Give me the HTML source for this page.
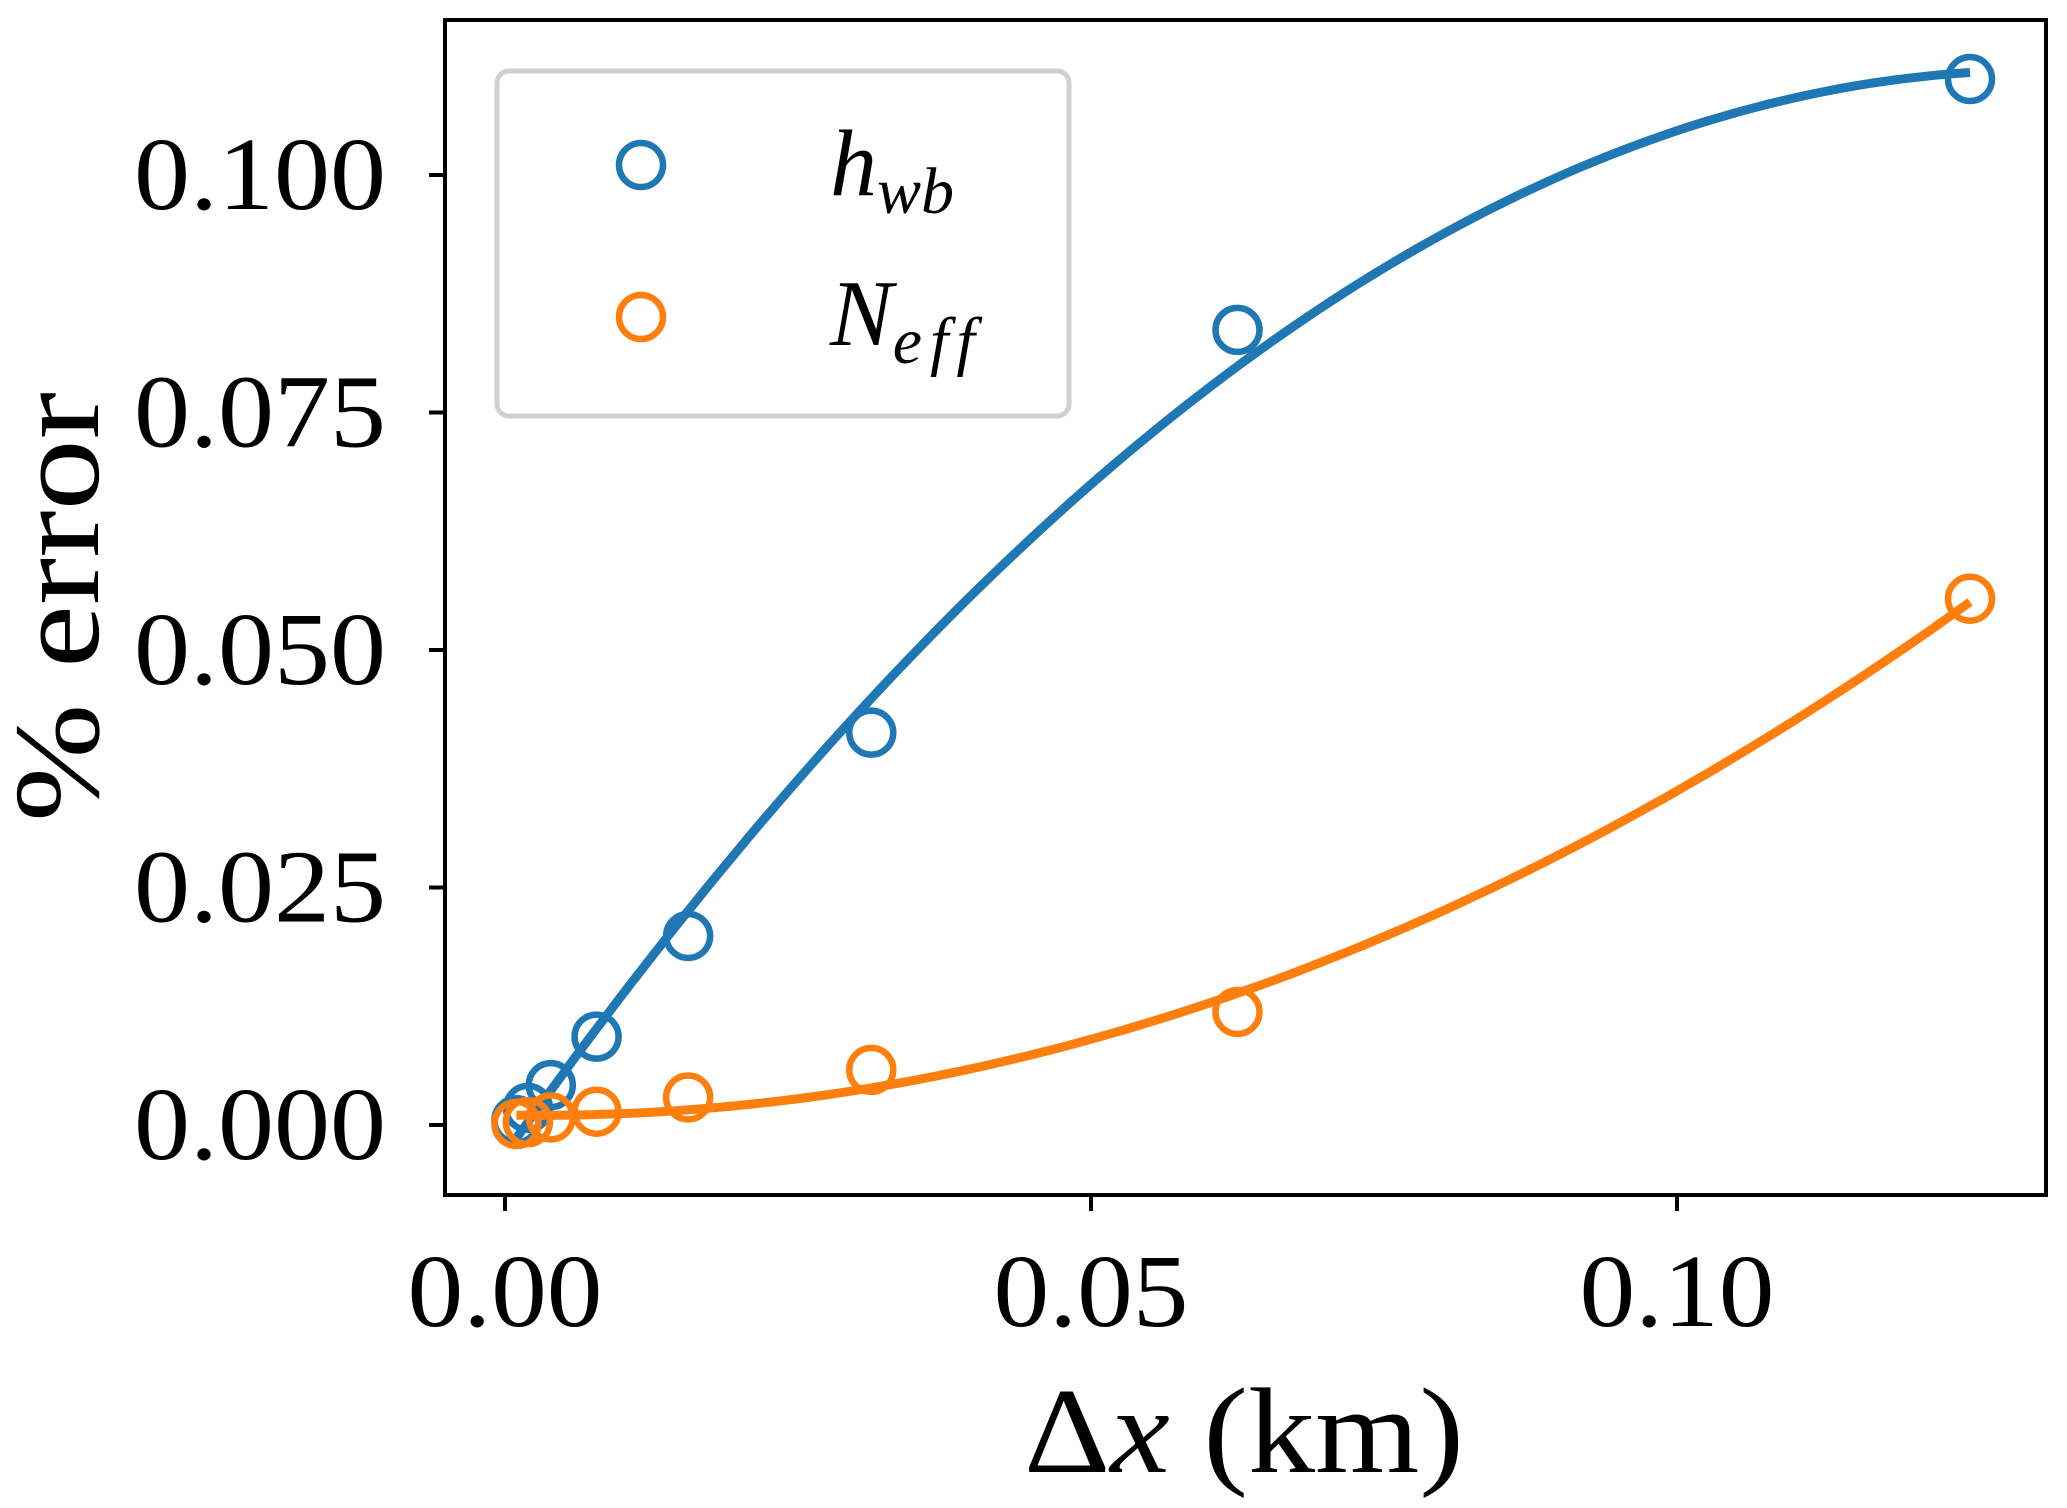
<!DOCTYPE html>
<html><head><meta charset="utf-8"><style>
html,body{margin:0;padding:0;background:#fff;}
svg{display:block;font-family:"Liberation Serif",serif;}
</style></head><body>
<svg id="chart" width="2067" height="1508" viewBox="0 0 2067 1508" xmlns="http://www.w3.org/2000/svg">
<rect x="0" y="0" width="2067" height="1508" fill="#fff"/>
<g id="plot"></g>
<g id="axes"></g>
</svg>
<script>
const dx = [0.125, 0.0625, 0.03125, 0.015625, 0.0078125, 0.00390625, 0.001953125, 0.0009765625];
const hwb = [0.1101, 0.0837, 0.0413, 0.0199, 0.0093, 0.0042, 0.0018, 0.0005];
const neff = [0.0554, 0.0119, 0.0058, 0.0029, 0.0014, 0.0008, 0.0003, 0.0001];
const xTicks = [0.00, 0.05, 0.10];
const xTickLabels = ["0.00", "0.05", "0.10"];
const yTicks = [0, 0.025, 0.05, 0.075, 0.1];
const yTickLabels = ["0.000", "0.025", "0.050", "0.075", "0.100"];

const NS = "http://www.w3.org/2000/svg";
const L = 445, R = 2046, T = 20, B = 1195;
function sx(v){ return 505 + v * (1677 - 505) / 0.10; }
function sy(v){ return 1125 - v * (1125 - 175) / 0.10; }
function mk(tag, attrs, parent){
  const e = document.createElementNS(NS, tag);
  for (const k in attrs) e.setAttribute(k, attrs[k]);
  parent.appendChild(e); return e;
}
function quadFit(xs, ys){
  let S=[0,0,0,0,0], Ty=[0,0,0];
  for (let i=0;i<xs.length;i++){ let p=1; for(let k=0;k<5;k++){S[k]+=p; if(k<3) Ty[k]+=p*ys[i]; p*=xs[i];} }
  const A=[[S[0],S[1],S[2],Ty[0]],[S[1],S[2],S[3],Ty[1]],[S[2],S[3],S[4],Ty[2]]];
  for(let i=0;i<3;i++){ for(let j=i+1;j<3;j++){ const f=A[j][i]/A[i][i]; for(let k=i;k<4;k++) A[j][k]-=f*A[i][k]; } }
  const c=[0,0,0];
  for(let i=2;i>=0;i--){ let s=A[i][3]; for(let k=i+1;k<3;k++) s-=A[i][k]*c[k]; c[i]=s/A[i][i]; }
  return x => c[0]+c[1]*x+c[2]*x*x;
}
const plot = document.getElementById('plot');
const axes = document.getElementById('axes');
const series = [[hwb, '#1f77b4', 'hwb'], [neff, '#ff7f0e', 'neff']];
series.forEach(([ys, col, nm]) => {
  const f = quadFit(dx, ys);
  const x0 = Math.min(...dx), x1 = Math.max(...dx);
  let d = '';
  for (let i=0;i<=100;i++){ const x = x0 + (x1-x0)*i/100; d += (i?'L':'M') + sx(x).toFixed(1) + ' ' + sy(f(x)).toFixed(1); }
  const p = mk('path', {d:d, fill:'none', stroke:col, 'stroke-width':9}, plot);
  
  
  dx.forEach((x, i) => {
    const c = mk('circle', {cx:sx(x), cy:sy(ys[i]), r:22, fill:'none', stroke:col, 'stroke-width':6.5}, plot);
    
    
  });
});
const frame = mk('rect', {x:L, y:T, width:R-L, height:B-T, fill:'none', stroke:'#000', 'stroke-width':4}, axes);


xTicks.forEach((v, i) => {
  const t = mk('line', {x1:sx(v), x2:sx(v), y1:B, y2:B+16, stroke:'#000', 'stroke-width':4}, axes);
  
  
  const tx = mk('text', {x:sx(v), y:1326, 'text-anchor':'middle', 'font-size':104, 'textLength':195, 'lengthAdjust':'spacingAndGlyphs'}, axes);
  tx.textContent = xTickLabels[i];
  
  
});
yTicks.forEach((v, i) => {
  const t = mk('line', {x1:L-16, x2:L, y1:sy(v), y2:sy(v), stroke:'#000', 'stroke-width':4}, axes);
  
  
  const tx = mk('text', {x:386, y:sy(v)+34, 'text-anchor':'end', 'font-size':104, 'textLength':252, 'lengthAdjust':'spacingAndGlyphs'}, axes);
  tx.textContent = yTickLabels[i];
  
  
});
</script>
<svg style="position:absolute;left:0;top:0" width="2067" height="1508" viewBox="0 0 2067 1508" xmlns="http://www.w3.org/2000/svg">
<text x="1244" y="1472" text-anchor="middle" font-size="122" font-family="Liberation Serif, serif" textLength="440" lengthAdjust="spacingAndGlyphs">Δ<tspan font-style="italic">x</tspan> (km)</text>
<text transform="translate(98,607) rotate(-90)" text-anchor="middle" font-size="122" font-family="Liberation Serif, serif" textLength="430" lengthAdjust="spacingAndGlyphs">% error</text>
<g>
<rect x="497" y="71" width="572" height="345" rx="12" fill="#fff" fill-opacity="0.8" stroke="#d0d0d0" stroke-width="5"/>
<circle cx="641" cy="165" r="22" fill="none" stroke="#1f77b4" stroke-width="6.5"/>
<text x="830" y="195" font-size="94" font-style="italic" font-family="Liberation Serif, serif">h<tspan font-size="66" dy="18">wb</tspan></text>
<circle cx="641" cy="317" r="22" fill="none" stroke="#ff7f0e" stroke-width="6.5"/>
<text x="830" y="345" font-size="94" font-style="italic" font-family="Liberation Serif, serif">N<tspan font-size="66" dy="18" letter-spacing="8">eff</tspan></text>
</g>
</svg>
</body></html>
